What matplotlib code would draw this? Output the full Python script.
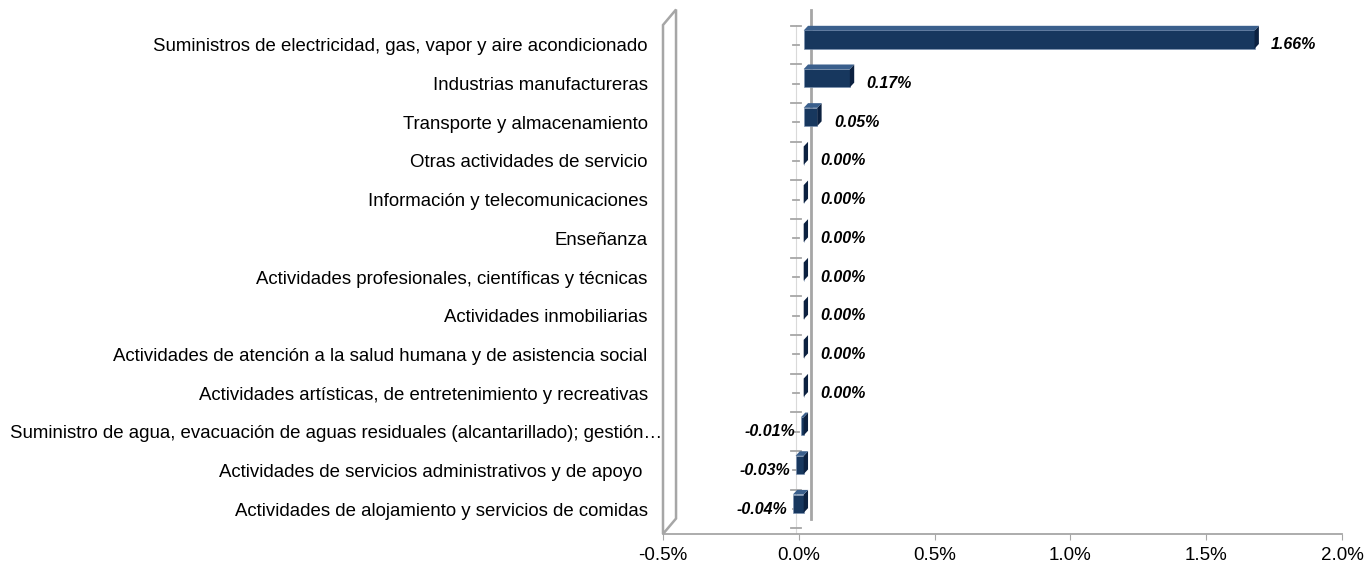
import numpy as np
import matplotlib.pyplot as plt
import matplotlib.transforms as mtransforms
from matplotlib.patches import Polygon

plt.rcParams['font.family'] = ['Liberation Sans', 'DejaVu Sans']

# data
categories = [
    'Suministros de electricidad, gas, vapor y aire acondicionado',
    'Industrias manufactureras',
    'Transporte y almacenamiento',
    'Otras actividades de servicio',
    'Información y telecomunicaciones',
    'Enseñanza',
    'Actividades profesionales, científicas y técnicas',
    'Actividades inmobiliarias',
    'Actividades de atención a la salud humana y de asistencia social',
    'Actividades artísticas, de entretenimiento y recreativas',
    'Suministro de agua, evacuación de aguas residuales (alcantarillado); gestión…',
    'Actividades de servicios administrativos y de apoyo ',
    'Actividades de alojamiento y servicios de comidas',
]
values = [1.66, 0.17, 0.05, 0.00, 0.00, 0.00, 0.00, 0.00, 0.00, 0.00, -0.01, -0.03, -0.04]
xticks = [-0.5, 0.0, 0.5, 1.0, 1.5, 2.0]
xtick_labels = ['-0.5%', '0.0%', '0.5%', '1.0%', '1.5%', '2.0%']

bar_color = '#17375E'
side_color = '#0C2140'
top_color = '#3A5F8C'
grey = '#A6A6A6'

fig = plt.figure(figsize=(13.68, 5.65), dpi=100)
ax = fig.add_axes([663 / 1368, 1 - 534 / 565, 679 / 1368, 509 / 565])

y = np.arange(len(categories))
ax.set_xlim(-0.5, 2.0)
ax.set_ylim(12.645, -0.516)

# 3d depth in data units
dx = 0.016
dy = 0.12
h = 0.47
off = -0.14
shift = 0.018

for yi, v in zip(y, values):
    yc = yi + off
    ax.barh(yc, v, left=shift, height=h, color=bar_color, edgecolor='#7C92B0',
            linewidth=0.5, zorder=3)
    xe = max(v, 0) + shift
    xs = min(v, 0) + shift
    # end face
    ax.add_patch(Polygon([(xe, yc - h / 2), (xe + dx, yc - h / 2 - dy),
                          (xe + dx, yc + h / 2 - dy), (xe, yc + h / 2)],
                         closed=True, facecolor=side_color, edgecolor='none', zorder=4))
    # top face
    ax.add_patch(Polygon([(xs, yc - h / 2), (xs + dx, yc - h / 2 - dy),
                          (xe + dx, yc - h / 2 - dy), (xe, yc - h / 2)],
                         closed=True, facecolor=top_color, edgecolor='none', zorder=4))
    lbl = '%.2f%%' % v
    if v < 0:
        ax.text(xs - 0.02, yi, lbl, ha='right', va='center', fontsize=11.5,
                fontweight='bold', fontstyle='italic', zorder=5)
    else:
        ax.text(xe + dx + 0.045, yi, lbl, ha='left', va='center', fontsize=11.5,
                fontweight='bold', fontstyle='italic', zorder=5)

# left side wall
wx = 0.048
wy = 0.4
ax.add_patch(Polygon([(-0.5, 12.645), (-0.5, -0.516), (-0.5 + wx, -0.516 - wy),
                      (-0.5 + wx, 12.645 - wy)], closed=True, facecolor='white',
                     edgecolor=grey, linewidth=1.8, clip_on=False, zorder=1))

# back zero line and front zero axis
ax.plot([0.045, 0.045], [12.645 - 0.4, -0.516 - 0.4], color=grey, lw=2,
        clip_on=False, zorder=1)
ax.plot([-0.01, -0.01], [12.645, -0.516], color='#D9D9D9', lw=0.8, zorder=2)
for t in np.arange(-0.5, 12.7, 1.0):
    ax.plot([-0.027, 0.008], [t, t], color=grey, lw=1.3, zorder=2)
for t in y:
    ax.plot([-0.02, 0.0], [t, t], color=grey, lw=1.3, zorder=2)

for s in ['left', 'right', 'top']:
    ax.spines[s].set_visible(False)
ax.spines['bottom'].set_color(grey)
ax.spines['bottom'].set_linewidth(1.3)

ax.set_xticks(xticks)
ax.set_xticklabels(xtick_labels, fontsize=13.5)
ax.tick_params(axis='x', length=4, color=grey, pad=5)
ax.set_yticks(y)
ax.set_yticklabels(categories, fontsize=13.4)
ax.tick_params(axis='y', length=0, pad=11)

# the truncated long label sits a bit further right, over the wall
long_lbl = ax.get_yticklabels()[10]
long_lbl.set_transform(long_lbl.get_transform() +
                       mtransforms.ScaledTranslation(14 / 100, 0, fig.dpi_scale_trans))
long_lbl.set_zorder(6)

fig.savefig('out.png', dpi=100)
